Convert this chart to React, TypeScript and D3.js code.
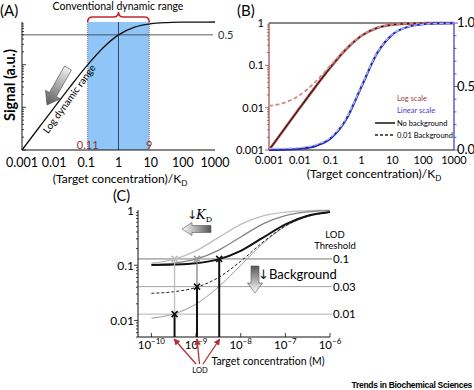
import React from "react";
import * as d3 from "d3";

// (target concentration)/K_D sampled at half decades, panels A and B
const ratio = [0.001, 0.00316, 0.01, 0.0316, 0.1, 0.316, 1, 3.16, 10, 31.6, 100, 316, 1000];
const signalNoBg = [0.001, 0.00315, 0.0099, 0.0306, 0.0909, 0.24, 0.5, 0.76, 0.909, 0.969, 0.99, 0.9968, 0.999];
const signalBg = [0.011, 0.0131, 0.0198, 0.0403, 0.1, 0.248, 0.505, 0.762, 0.91, 0.969, 0.99, 0.997, 0.999];
const ratioTicks = [0.001, 0.01, 0.1, 1, 10, 100, 1000];
const ratioTickLabels = ["0.001", "0.01", "0.1", "1", "10", "100", "1000"];
const logTicksB = [1, 0.1, 0.01, 0.001];
const logTickLabelsB = ["1", "0.1", "0.01", "0.001"];
const linTicksB = [1, 0.5, 0];
const linTickLabelsB = ["1.0", "0.5", "0.0"];
const rangeLow = 0.11;
const rangeHigh = 9;

// panel C: concentration (M) at half decades
const conc = [1e-10, 3.16e-10, 1e-9, 3.16e-9, 1e-8, 3.16e-8, 1e-7, 3.16e-7, 1e-6];
const kd10nmBg10 = [0.109, 0.1276, 0.182, 0.316, 0.55, 0.784, 0.918, 0.972, 0.991];
const kd30nmBg10 = [0.103, 0.1094, 0.129, 0.186, 0.325, 0.562, 0.792, 0.922, 0.974];
const kd100nmBg10 = [0.1009, 0.1028, 0.1089, 0.1276, 0.182, 0.316, 0.55, 0.784, 0.918];
const kd100nmBg3 = [0.031, 0.0331, 0.0396, 0.0597, 0.118, 0.263, 0.515, 0.767, 0.912];
const kd100nmBg1 = [0.011, 0.0131, 0.0198, 0.0403, 0.1, 0.248, 0.505, 0.762, 0.91];
const thresholds = [0.13, 0.041, 0.013];
const thresholdLabels = ["0.1", "0.03", "0.01"];
const lodConc = [3.3e-10, 1.05e-9, 3.3e-9];
const concTicks = [-10, -9, -8, -7, -6];
const yTicksC = [1, 0.1, 0.01];
const yTickLabelsC = ["1", "0.1", "0.01"];

const FONT = "Lato, 'Open Sans', sans-serif";
const ARROW_FONT = "'DejaVu Sans', sans-serif";

function logMinor(lo: number, hi: number) {
  const out: number[] = [];
  for (let e = Math.floor(Math.log10(lo)); e < Math.ceil(Math.log10(hi)); e++) {
    for (let m = 1; m < 10; m++) {
      const v = m * Math.pow(10, e);
      if (v >= lo * 0.999 && v <= hi * 1.001) out.push(v);
    }
  }
  return out;
}

function Arrow(props: {
  x1: number; y1: number; x2: number; y2: number;
  shaft: number; head: number; headLen: number; id: string; from: string; to: string;
}) {
  const { x1, y1, x2, y2, shaft, head, headLen, id, from, to } = props;
  const L = Math.hypot(x2 - x1, y2 - y1);
  const ang = (Math.atan2(y2 - y1, x2 - x1) * 180) / Math.PI;
  const pts = [
    [0, -shaft], [L - headLen, -shaft], [L - headLen, -head], [L, 0],
    [L - headLen, head], [L - headLen, shaft], [0, shaft],
  ];
  return (
    <g transform={`translate(${x1},${y1}) rotate(${ang})`}>
      <defs>
        <linearGradient id={id} x1="0" x2="1" y1="0" y2="0">
          <stop offset="0" stopColor={from} />
          <stop offset="1" stopColor={to} />
        </linearGradient>
      </defs>
      <polygon points={pts.map((p) => p.join(",")).join(" ")} fill={`url(#${id})`} stroke="#555" strokeWidth={0.6} />
    </g>
  );
}

export default function App() {
  // ---------- panel A ----------
  const xA = d3.scaleLog().domain([0.001, 1000]).range([22, 215]);
  const yA = d3.scaleLog().domain([0.001, 1]).range([150, 22]);
  const lineA = d3
    .line<number>()
    .x((_, i) => xA(ratio[i]))
    .y((d) => yA(d))
    .curve(d3.curveMonotoneX);

  // ---------- panel B ----------
  const xB = d3.scaleLog().domain([0.001, 1000]).range([269, 454]);
  const yBlog = d3.scaleLog().domain([0.001, 1]).range([150, 23]);
  const yBlin = d3.scaleLinear().domain([0, 1]).range([150, 23]);
  const lineBlog = d3
    .line<number>()
    .x((_, i) => xB(ratio[i]))
    .y((d) => yBlog(d))
    .curve(d3.curveMonotoneX);
  const lineBlin = d3
    .line<number>()
    .x((_, i) => xB(ratio[i]))
    .y((d) => yBlin(d))
    .curve(d3.curveMonotoneX);

  // ---------- panel C ----------
  const xC = d3.scaleLog().domain([Math.pow(10, -10.3), 1e-6]).range([138, 330]);
  const yC = d3.scaleLog().domain([Math.pow(10, -2.3), 1]).range([337, 210]);
  const lineC = d3
    .line<number>()
    .x((_, i) => xC(conc[i]))
    .y((d) => yC(d))
    .curve(d3.curveMonotoneX);
  const seriesC = [
    { data: kd100nmBg1, stroke: "#9a9a9a", width: 1, dash: "" },
    { data: kd100nmBg3, stroke: "#222", width: 1, dash: "3,2" },
    { data: kd10nmBg10, stroke: "#bdbdbd", width: 1.3, dash: "" },
    { data: kd30nmBg10, stroke: "#858585", width: 1.3, dash: "" },
    { data: kd100nmBg10, stroke: "#111", width: 2, dash: "" },
  ];
  const threshColor = ["#6a6a6a", "#9a9a9a", "#aaaaaa"];
  const bottomC = yC.range()[0];

  const cross = (x: number, y: number, color: string, key: string) => (
    <g key={key} stroke={color} strokeWidth={1.6}>
      <line x1={x - 3} y1={y - 3} x2={x + 3} y2={y + 3} />
      <line x1={x - 3} y1={y + 3} x2={x + 3} y2={y - 3} />
    </g>
  );

  return (
    <svg
      width={474}
      height={390}
      style={{ position: "absolute", left: 0, top: 0, background: "#fff" }}
      fontFamily={FONT}
    >
      <defs>
        <marker id="redHead" viewBox="0 0 10 10" refX="9" refY="5" markerWidth="5" markerHeight="5" orient="auto">
          <path d="M0,0 L10,5 L0,10 z" fill="#b3303a" />
        </marker>
      </defs>

      {/* ================= Panel A ================= */}
      <text x={0} y={16} fontSize={15}>(A)</text>
      <text x={118} y={10} fontSize={10.5} textAnchor="middle">Conventional dynamic range</text>
      <path
        d={`M${xA(rangeLow)},22 Q${xA(rangeLow)},17 ${xA(rangeLow) + 5},17 L${xA(1) - 5},17 Q${xA(1)},17 ${xA(1)},12 Q${xA(1)},17 ${xA(1) + 5},17 L${xA(rangeHigh) - 5},17 Q${xA(rangeHigh)},17 ${xA(rangeHigh)},22`}
        fill="none"
        stroke="#c1272d"
        strokeWidth={1.6}
      />
      <rect
        x={xA(rangeLow)}
        y={yA(1)}
        width={xA(rangeHigh) - xA(rangeLow)}
        height={yA(0.001) - yA(1)}
        fill="#8fc6f7"
      />
      {[rangeLow, rangeHigh].map((v) => (
        <line key={v} x1={xA(v)} x2={xA(v)} y1={yA(1)} y2={yA(0.001)} stroke="#8a4a4a" strokeWidth={0.8} strokeDasharray="1,1" />
      ))}
      <line x1={xA(1)} x2={xA(1)} y1={yA(1)} y2={yA(0.001)} stroke="#1b2a48" strokeWidth={0.8} />
      <line x1={xA(0.001)} x2={213} y1={yA(0.5)} y2={yA(0.5)} stroke="#333" strokeWidth={0.8} />
      <text x={218} y={yA(0.5) + 4} fontSize={11} fill="#333">0.5</text>
      <path d={lineA(signalNoBg) || ""} fill="none" stroke="#111" strokeWidth={1.3} />
      {/* axes */}
      <line x1={xA(0.001)} x2={xA(0.001)} y1={yA(1)} y2={yA(0.001)} stroke="#111" strokeWidth={1} />
      <line x1={xA(0.001)} x2={xA(1000)} y1={yA(0.001)} y2={yA(0.001)} stroke="#111" strokeWidth={1} />
      {logMinor(0.001, 1).map((v) => {
        const major = Math.abs(Math.log10(v) - Math.round(Math.log10(v))) < 1e-6;
        return (
          <line key={v} x1={xA(0.001)} x2={xA(0.001) + (major ? 4 : 2)} y1={yA(v)} y2={yA(v)} stroke="#111" strokeWidth={0.8} />
        );
      })}
      {ratioTicks.map((v, i) => (
        <text key={v} x={xA(v)} y={167} fontSize={12.5} textAnchor="middle">{ratioTickLabels[i]}</text>
      ))}
      <text x={xA(rangeLow)} y={149} fontSize={11} textAnchor="middle" fill="#8b3030">0.11</text>
      <text x={xA(rangeHigh)} y={149} fontSize={11} textAnchor="middle" fill="#8b3030">9</text>
      <text x={120} y={183} fontSize={12} textAnchor="middle">
        (Target concentration)/K<tspan fontSize={8} dy={3}>D</tspan>
      </text>
      <text transform="translate(14.5,85) rotate(-90)" fontSize={14.5} fontWeight="bold" textAnchor="middle">Signal (a.u.)</text>
      <Arrow x1={68} y1={68} x2={47} y2={105} shaft={4} head={8.5} headLen={12} id="gA" from="#f0f0f0" to="#5a5a5a" />
      <text transform="translate(72,101) rotate(-54)" fontSize={10} textAnchor="middle">Log dynamic range</text>

      {/* ================= Panel B ================= */}
      <text x={237} y={16} fontSize={15}>(B)</text>
      <line x1={xB(0.001)} x2={xB(1000)} y1={23} y2={23} stroke="#111" strokeWidth={1} />
      <line x1={xB(0.001)} x2={xB(1000)} y1={150} y2={150} stroke="#111" strokeWidth={1} />
      <line x1={xB(0.001)} x2={xB(0.001)} y1={23} y2={150} stroke="#9a4a48" strokeWidth={1.2} />
      <line x1={xB(1000)} x2={xB(1000)} y1={23} y2={150} stroke="#3a36b8" strokeWidth={1.2} />
      {logMinor(0.001, 1).map((v) => {
        const major = Math.abs(Math.log10(v) - Math.round(Math.log10(v))) < 1e-6;
        return (
          <line key={v} x1={xB(0.001) - (major ? 4 : 2)} x2={xB(0.001)} y1={yBlog(v)} y2={yBlog(v)} stroke="#9a4a48" strokeWidth={0.8} />
        );
      })}
      {d3.range(0, 11).map((k) => (
        <line key={k} x1={xB(1000)} x2={xB(1000) + (k % 5 === 0 ? 4 : 2.5)} y1={yBlin(k / 10)} y2={yBlin(k / 10)} stroke="#3a36b8" strokeWidth={0.8} />
      ))}
      {logTicksB.map((v, i) => (
        <text key={v} x={264} y={yBlog(v) + 4} fontSize={11} textAnchor="end">{logTickLabelsB[i]}</text>
      ))}
      {linTicksB.map((v, i) => (
        <text key={v} x={457} y={yBlin(v) + 4} fontSize={13}>{linTickLabelsB[i]}</text>
      ))}
      {ratioTicks.map((v, i) => (
        <text key={v} x={xB(v)} y={163.5} fontSize={11} textAnchor="middle">{ratioTickLabels[i]}</text>
      ))}
      <text x={374} y={178} fontSize={12} textAnchor="middle">
        (Target concentration)/K<tspan fontSize={8} dy={3}>D</tspan>
      </text>
      {/* log-scale curves */}
      <path d={lineBlog(signalNoBg) || ""} fill="none" stroke="#b24a48" strokeWidth={2.6} />
      <path d={lineBlog(signalNoBg) || ""} fill="none" stroke="#111" strokeWidth={1} />
      <path d={lineBlog(signalBg) || ""} fill="none" stroke="#cf8a88" strokeWidth={1.8} strokeDasharray="4,2.5" />
      {/* linear-scale curves */}
      <path d={lineBlin(signalNoBg) || ""} fill="none" stroke="#2a26b0" strokeWidth={2.2} />
      <path d={lineBlin(signalBg) || ""} fill="none" stroke="#9fc2f2" strokeWidth={1.4} strokeDasharray="4,2.5" />
      {/* legend */}
      <text x={397} y={101} fontSize={7.5} fill="#a0403c">Log scale</text>
      <text x={397} y={113} fontSize={7.5} fill="#4a3ad0">Linear scale</text>
      <line x1={375} x2={395} y1={123} y2={123} stroke="#222" strokeWidth={1.6} />
      <text x={397} y={126} fontSize={7.5}>No background</text>
      <line x1={375} x2={395} y1={135} y2={135} stroke="#222" strokeWidth={1.4} strokeDasharray="3,2" />
      <text x={397} y={138} fontSize={7.5}>0.01 Background</text>

      {/* ================= Panel C ================= */}
      <text x={113} y={201} fontSize={14.5}>(C)</text>
      {thresholds.map((t, i) => (
        <g key={t}>
          <line x1={xC.range()[0]} x2={332} y1={yC(t)} y2={yC(t)} stroke={threshColor[i]} strokeWidth={0.9} />
          <text x={333} y={yC(t) + 4} fontSize={11.5}>{thresholdLabels[i]}</text>
        </g>
      ))}
      <text x={335} y={238} fontSize={9.5} textAnchor="middle">LOD</text>
      <text x={335} y={249} fontSize={9.5} textAnchor="middle">Threshold</text>
      {seriesC.map((s, i) => (
        <path key={i} d={lineC(s.data) || ""} fill="none" stroke={s.stroke} strokeWidth={s.width} strokeDasharray={s.dash} />
      ))}
      {/* LOD drop lines */}
      <line x1={xC(lodConc[0])} x2={xC(lodConc[0])} y1={yC(thresholds[0])} y2={yC(thresholds[2])} stroke="#bdbdbd" strokeWidth={1.3} />
      <line x1={xC(lodConc[1])} x2={xC(lodConc[1])} y1={yC(thresholds[0])} y2={yC(thresholds[1])} stroke="#858585" strokeWidth={1.3} />
      <line x1={xC(lodConc[0])} x2={xC(lodConc[0])} y1={yC(thresholds[2])} y2={bottomC} stroke="#111" strokeWidth={2} />
      <line x1={xC(lodConc[1])} x2={xC(lodConc[1])} y1={yC(thresholds[1])} y2={bottomC} stroke="#111" strokeWidth={2} />
      <line x1={xC(lodConc[2])} x2={xC(lodConc[2])} y1={yC(thresholds[0])} y2={bottomC} stroke="#111" strokeWidth={2} />
      {cross(xC(lodConc[0]), yC(thresholds[0]), "#bdbdbd", "c1")}
      {cross(xC(lodConc[1]), yC(thresholds[0]), "#9a9a9a", "c2")}
      {cross(xC(lodConc[2]), yC(thresholds[0]), "#111", "c3")}
      {cross(xC(lodConc[1]), yC(thresholds[1]), "#111", "c4")}
      {cross(xC(lodConc[0]), yC(thresholds[2]), "#111", "c5")}
      {/* axes */}
      <line x1={138} x2={138} y1={yC(1)} y2={bottomC} stroke="#111" strokeWidth={1} />
      <line x1={138} x2={xC(1e-6)} y1={bottomC} y2={bottomC} stroke="#111" strokeWidth={1} />
      {logMinor(0.005, 1).map((v) => {
        const major = Math.abs(Math.log10(v) - Math.round(Math.log10(v))) < 1e-6;
        return (
          <line key={v} x1={138 - (major ? 4 : 2)} x2={138} y1={yC(v)} y2={yC(v)} stroke="#111" strokeWidth={0.8} />
        );
      })}
      {yTicksC.map((v, i) => (
        <text key={v} x={134} y={yC(v) + 4.5} fontSize={12} textAnchor="end">{yTickLabelsC[i]}</text>
      ))}
      {concTicks.map((e) => (
        <g key={e}>
          <line x1={xC(Math.pow(10, e))} x2={xC(Math.pow(10, e))} y1={bottomC} y2={bottomC - 4} stroke="#111" strokeWidth={0.8} />
          <text x={xC(Math.pow(10, e))} y={349} fontSize={11.5} textAnchor="middle">
            10<tspan fontSize={8} dy={-5}>{`\u2212${-e}`}</tspan>
          </text>
        </g>
      ))}
      <text x={268} y={365} fontSize={10.5} textAnchor="middle">Target concentration (M)</text>
      {/* LOD arrows */}
      {lodConc.map((c, i) => (
        <line
          key={c}
          x1={196 + i * 3.5}
          y1={364}
          x2={xC(c) + (i - 1) * 0.5}
          y2={bottomC + 2}
          stroke="#b3303a"
          strokeWidth={1.3}
          markerEnd="url(#redHead)"
        />
      ))}
      <text x={200} y={373} fontSize={7.5} textAnchor="middle">LOD</text>
      {/* K_D arrow */}
      <text x={187} y={219} fontSize={12} fontFamily={ARROW_FONT} fill="#111">{"\u2193"}</text>
      <text x={196} y={219} fontSize={13} fontStyle="italic" fontFamily="'DejaVu Serif', serif">
        K<tspan fontSize={8} dy={3} fontStyle="normal">D</tspan>
      </text>
      <Arrow x1={211} y1={229} x2={182} y2={229} shaft={3.5} head={6.5} headLen={10} id="gK" from="#555" to="#ffffff" />
      {/* background arrow */}
      <Arrow x1={255} y1={266} x2={255} y2={293} shaft={4} head={7.5} headLen={10} id="gBg" from="#555" to="#ffffff" />
      <text x={258} y={279} fontSize={13}>
        <tspan fontFamily={ARROW_FONT} fill="#111">{"\u2193"}</tspan>Background
      </text>

      <text x={472} y={388} fontSize={8.5} fontWeight="bold" textAnchor="end" fontFamily="'Liberation Sans', Arial, sans-serif" letterSpacing={-0.3}>
        Trends in Biochemical Sciences
      </text>
    </svg>
  );
}
